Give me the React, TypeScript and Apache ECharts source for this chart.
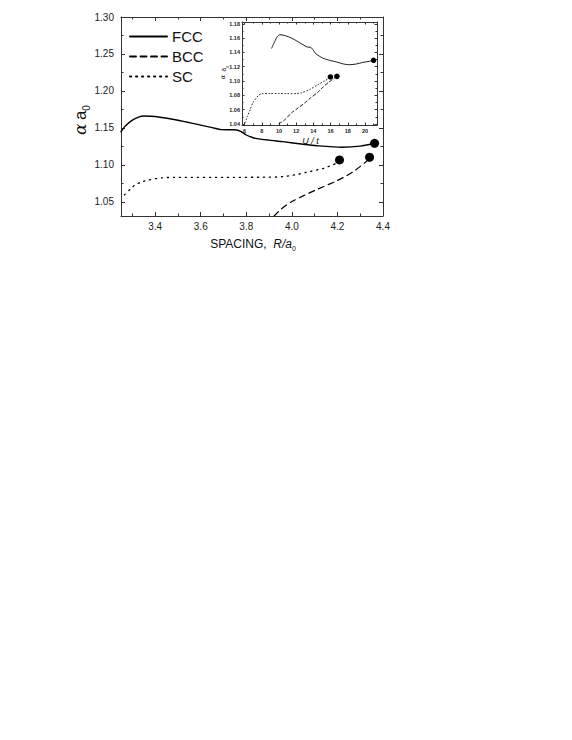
import React, { useEffect, useRef } from 'react';
import * as echarts from 'echarts';

// ---------- data ----------
const mainFCC: [number, number][] = [
  [3.25, 1.145], [3.27, 1.153], [3.30, 1.1605], [3.33, 1.165], [3.35, 1.1662], [3.40, 1.1655],
  [3.50, 1.1605], [3.59, 1.1545], [3.65, 1.1505], [3.69, 1.1478], [3.75, 1.1475], [3.775, 1.1455],
  [3.80, 1.1405], [3.82, 1.138], [3.84, 1.136], [3.90, 1.1335], [3.96, 1.1315], [4.05, 1.128],
  [4.11, 1.126], [4.22, 1.124], [4.30, 1.1255], [4.36, 1.129],
];
const mainBCC: [number, number][] = [
  [3.922, 1.031], [3.95, 1.0395], [4.0, 1.0505], [4.1, 1.0655], [4.2, 1.079], [4.27, 1.091], [4.33, 1.1055],
];
const mainSC: [number, number][] = [
  [3.265, 1.0595], [3.29, 1.067], [3.31, 1.0725], [3.34, 1.077], [3.37, 1.0797], [3.43, 1.0826],
  [3.50, 1.0833], [3.70, 1.0833], [3.90, 1.0835], [3.96, 1.0842], [4.02, 1.087], [4.08, 1.0912],
  [4.14, 1.0955], [4.19, 1.1015],
];
const mainEndpoints: [number, number][] = [[4.363, 1.1293], [4.209, 1.1068], [4.341, 1.1104]];

const insetFCC: [number, number][] = [
  [9.15, 1.146], [9.5, 1.155], [9.8, 1.162], [10.1, 1.1647], [10.6, 1.1638], [11.27, 1.161],
  [12.0, 1.1565], [12.8, 1.1507], [13.3, 1.1475], [13.7, 1.147], [14.0, 1.143], [14.3, 1.138],
  [15.1, 1.132], [16.0, 1.1285], [16.7, 1.1266], [17.5, 1.1238], [18.2, 1.1228], [19.0, 1.1238],
  [19.75, 1.126], [20.5, 1.1275], [21.0, 1.1289],
];
const insetSC: [number, number][] = [
  [6.06, 1.0415], [6.3, 1.05], [6.64, 1.06], [7.02, 1.0708], [7.6, 1.0796], [7.9, 1.082], [9, 1.0825],
  [10, 1.0825], [11, 1.0823], [12.04, 1.0825], [12.62, 1.0835], [13.58, 1.0882], [14.54, 1.095],
  [15.3, 1.1], [15.8, 1.104],
];
const insetBCC: [number, number][] = [
  [10.0, 1.0405], [10.69, 1.046], [11.46, 1.0555], [12.23, 1.0624], [13.0, 1.0694], [13.58, 1.0755],
  [14.54, 1.0845], [15.12, 1.0915], [15.8, 1.0985], [16.5, 1.1045],
];
const insetEndpoints: [number, number][] = [[21.0, 1.1289], [15.98, 1.1057], [16.74, 1.1065]];

const legendNames = ['FCC', 'BCC', 'SC'];

const mainXMajor = [3.4, 3.6, 3.8, 4.0, 4.2, 4.4];
const mainXMinor = [3.3, 3.5, 3.7, 3.9, 4.1, 4.3];
const mainYMajor = [1.05, 1.10, 1.15, 1.20, 1.25, 1.30];
const mainYMinor = [1.075, 1.125, 1.175, 1.225, 1.275];
const insetXMajor = [6, 8, 10, 12, 14, 16, 18, 20];
const insetXMinor = [7, 9, 11, 13, 15, 17, 19, 21];
const insetYMajor = [1.04, 1.06, 1.08, 1.10, 1.12, 1.14, 1.16, 1.18];
const insetYMinor = [1.05, 1.07, 1.09, 1.11, 1.13, 1.15, 1.17];

// ---------- layout / style ----------
const FONT = 'Arial, "Liberation Sans", Helvetica, sans-serif';
const AX = '#333';
const MAIN = { left: 121, top: 17, width: 262, height: 199 };
const INSET = { left: 242, top: 22, width: 135, height: 103 };
const MAIN_X = [3.25, 4.4];
const MAIN_Y = [1.031, 1.30];
const INSET_X = [5.7, 21.4];
const INSET_Y = [1.0385, 1.1825];

type LabelOpt = { fontSize: number; margin: number; fmt: (v: number) => string; weight?: string } | null;

function makeAxis(grid: number, pos: string, range: number[], ticks: number[], len: number,
  showLine: boolean, label: LabelOpt) {
  return {
    type: 'value', gridIndex: grid, position: pos, min: range[0], max: range[1],
    axisLine: { show: showLine, onZero: false, lineStyle: { color: AX, width: 1 } },
    axisTick: { show: true, inside: true, length: len, customValues: ticks, lineStyle: { color: AX, width: 1 } },
    axisLabel: label
      ? {
          show: true, customValues: ticks, formatter: (v: number) => label.fmt(v),
          fontSize: label.fontSize, margin: label.margin, color: '#222', fontFamily: FONT,
          fontWeight: label.weight || 'normal',
        }
      : { show: false },
    splitLine: { show: false },
  };
}

function buildOption() {
  const f1 = (v: number) => v.toFixed(1);
  const f2 = (v: number) => v.toFixed(2);
  const f0 = (v: number) => String(Math.round(v));

  const xAxis = [
    makeAxis(0, 'bottom', MAIN_X, mainXMajor, 4, true, { fontSize: 10, margin: 5, fmt: f1 }),
    makeAxis(0, 'top', MAIN_X, mainXMajor, 4, true, null),
    makeAxis(1, 'bottom', MAIN_X, mainXMinor, 2.5, false, null),
    makeAxis(1, 'top', MAIN_X, mainXMinor, 2.5, false, null),
    makeAxis(2, 'bottom', INSET_X, insetXMajor, 2.5, true, { fontSize: 5.5, margin: 3, fmt: f0, weight: 'bold' }),
    makeAxis(2, 'top', INSET_X, insetXMajor, 2.5, true, null),
    makeAxis(3, 'bottom', INSET_X, insetXMinor, 1.5, false, null),
    makeAxis(3, 'top', INSET_X, insetXMinor, 1.5, false, null),
  ];
  const yAxis = [
    makeAxis(0, 'left', MAIN_Y, mainYMajor, 4, true, { fontSize: 10, margin: 7, fmt: f2 }),
    makeAxis(0, 'right', MAIN_Y, mainYMajor, 4, true, null),
    makeAxis(1, 'left', MAIN_Y, mainYMinor, 2.5, false, null),
    makeAxis(1, 'right', MAIN_Y, mainYMinor, 2.5, false, null),
    makeAxis(2, 'left', INSET_Y, insetYMajor, 2.5, true, { fontSize: 5.5, margin: 2, fmt: f2, weight: 'bold' }),
    makeAxis(2, 'right', INSET_Y, insetYMajor, 2.5, true, null),
    makeAxis(3, 'left', INSET_Y, insetYMinor, 1.5, false, null),
    makeAxis(3, 'right', INSET_Y, insetYMinor, 1.5, false, null),
  ];

  const line = (name: string, data: [number, number][], axis: number, width: number, type: any) => ({
    type: 'line', name, data, xAxisIndex: axis, yAxisIndex: axis, symbol: 'none', smooth: 0.25,
    lineStyle: { color: '#000', width, type, cap: 'round' }, itemStyle: { color: '#000' },
    silent: true, z: 3,
  });

  const series: any[] = [
    line('FCC', mainFCC, 0, 1.4, 'solid'),
    line('BCC', mainBCC, 0, 1.2, [6, 4.5]),
    line('SC', mainSC, 0, 1.3, [1.2, 4.8]),
    {
      type: 'scatter', name: 'endpoints', data: mainEndpoints, xAxisIndex: 0, yAxisIndex: 0,
      symbol: 'circle', symbolSize: 9, itemStyle: { color: '#000', opacity: 1 }, z: 4, silent: true,
    },
    line('FCC inset', insetFCC, 4, 0.9, 'solid'),
    line('BCC inset', insetBCC, 4, 0.9, [3, 2.5]),
    line('SC inset', insetSC, 4, 0.9, [0.8, 2.4]),
    {
      type: 'scatter', name: 'endpoints inset', data: insetEndpoints, xAxisIndex: 4, yAxisIndex: 4,
      symbol: 'circle', symbolSize: 5.5, itemStyle: { color: '#000', opacity: 1 }, z: 4, silent: true,
    },
  ];

  const mainCx = MAIN.left + MAIN.width / 2;
  const insetCx = INSET.left + INSET.width / 2;
  const insetCy = INSET.top + INSET.height / 2;

  return {
    animation: false,
    backgroundColor: '#fff',
    textStyle: { fontFamily: FONT },
    grid: [
      { ...MAIN, containLabel: false },
      { ...MAIN, containLabel: false },
      { ...INSET, containLabel: false },
      { ...INSET, containLabel: false },
    ],
    xAxis,
    yAxis,
    legend: {
      data: legendNames, orient: 'vertical', left: 129, top: 29, itemWidth: 37, itemHeight: 14, itemGap: 5,
      selectedMode: false, padding: 0,
      itemStyle: { opacity: 0, borderWidth: 0 },
      textStyle: { fontSize: 15, fontFamily: FONT, color: '#111' },
    },
    graphic: [
      {
        type: 'text', x: 80, y: 120, rotation: Math.PI / 2,
        style: {
          text: '{g|α} {a|a}{s|0}', align: 'center', verticalAlign: 'middle', fill: '#111',
          rich: {
            g: { fontFamily: '"DejaVu Serif", "Liberation Serif", serif', fontStyle: 'italic', fontSize: 17, lineHeight: 22, verticalAlign: 'middle', fill: '#111' },
            a: { fontFamily: FONT, fontSize: 17, lineHeight: 22, verticalAlign: 'middle', fill: '#111' },
            s: { fontFamily: FONT, fontSize: 10, lineHeight: 10, verticalAlign: 'bottom', fill: '#111' },
          },
        },
      },
      {
        type: 'text', x: mainCx + 1, y: 244,
        style: {
          text: '{t|SPACING,  }{i|R/a}{s|0}', align: 'center', verticalAlign: 'middle', fill: '#111',
          rich: {
            t: { fontFamily: FONT, fontSize: 12, lineHeight: 15, verticalAlign: 'middle', fill: '#111' },
            i: { fontFamily: FONT, fontStyle: 'italic', fontSize: 12, lineHeight: 15, verticalAlign: 'middle', fill: '#111' },
            s: { fontFamily: FONT, fontSize: 7, lineHeight: 7, verticalAlign: 'bottom', fill: '#111' },
          },
        },
      },
      {
        type: 'text', x: insetCx + 1, y: 141,
        style: { text: 'U / t', fontFamily: FONT, fontStyle: 'italic', fontSize: 9, align: 'center', verticalAlign: 'middle', fill: '#111' },
      },
      {
        type: 'text', x: INSET.left - 19, y: insetCy - 1, rotation: Math.PI / 2,
        style: {
          text: '{g|α} {a|a}{s|0}', align: 'center', verticalAlign: 'middle', fill: '#111',
          rich: {
            g: { fontFamily: '"DejaVu Serif", "Liberation Serif", serif', fontStyle: 'italic', fontSize: 6.5, lineHeight: 9, verticalAlign: 'middle', fill: '#111' },
            a: { fontFamily: FONT, fontSize: 6.5, lineHeight: 9, verticalAlign: 'middle', fill: '#111' },
            s: { fontFamily: FONT, fontSize: 4, lineHeight: 4, verticalAlign: 'bottom', fill: '#111' },
          },
        },
      },
    ],
    series,
  };
}

export default function App() {
  const ref = useRef<HTMLDivElement>(null);
  useEffect(() => {
    if (!ref.current) return;
    const chart = echarts.init(ref.current, null, { renderer: 'svg' });
    chart.setOption(buildOption() as any);
    return () => chart.dispose();
  }, []);
  return (
    <div
      ref={ref}
      style={{ position: 'fixed', left: 0, top: 0, width: 572, height: 740, background: '#fff' }}
    />
  );
}
